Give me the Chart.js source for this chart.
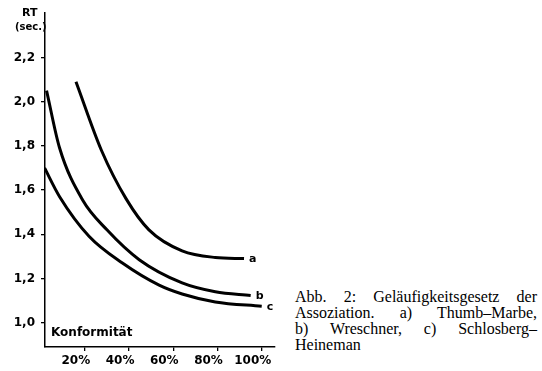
<!DOCTYPE html>
<html lang="de">
<head>
<meta charset="UTF-8">
<title>Geläufigkeitsgesetz der Assoziation</title>
<script src="https://cdn.jsdelivr.net/npm/chart.js"></script>
<style>
    body { margin: 0; background: #fff; }
    #wrap { position: relative; width: 542px; height: 371px; overflow: hidden; }
    #chartBox { position: absolute; left: 0; top: 0; width: 290px; height: 371px; }
    .lbl { position: absolute; font-family: "DejaVu Sans", sans-serif; font-weight: bold; color: #000; white-space: nowrap; }
    #caption { position: absolute; left: 295px; top: 289px; width: 242px; font-family: "Liberation Serif", serif; font-size: 16px; line-height: 16px; color: #000; }
    #caption div { text-align: justify; text-align-last: justify; }
    #caption div.last { text-align-last: left; }
</style>
</head>
<body>
<div id="wrap">
    <div id="chartBox"><canvas id="chart"></canvas></div>
    <div class="lbl" style="left:22px; top:6px; font-size:11px;">RT</div>
    <div class="lbl" style="left:15px; top:21px; font-size:10px;">(sec.)</div>
    <div class="lbl" style="left:51px; top:325px; font-size:12px;">Konformität</div>
    <div id="caption">
        <div>Abb. 2: Geläufigkeitsgesetz der</div>
        <div>Assoziation. a) Thumb–Marbe,</div>
        <div>b) Wreschner, c) Schlosberg–</div>
        <div class="last">Heineman</div>
    </div>
</div>
<script>
// values (x = Konformität in %, y = RT in sec.)
const curveA = [[16, 2.09], [27.5, 1.78], [38.7, 1.56], [49, 1.42], [64, 1.325], [79, 1.295], [92, 1.29]];
const curveB = [[2.7, 2.05], [8.6, 1.79], [19, 1.555], [30, 1.42], [44.6, 1.285], [64, 1.18], [79, 1.14], [95, 1.123]];
const curveC = [[1.8, 1.70], [8.6, 1.57], [22, 1.39], [37, 1.27], [53.6, 1.17], [64, 1.13], [79, 1.094], [100, 1.074]];
const curveNames = ['a', 'b', 'c'];
const xTicks = [20, 40, 60, 80, 100];
const yTicks = [1.0, 1.2, 1.4, 1.6, 1.8, 2.0, 2.2];

function toPoints(arr) {
    return arr.map(p => ({ x: p[0], y: p[1] }));
}

// small letter at the end of each curve
const endLabels = {
    id: 'endLabels',
    afterDatasetsDraw(chart) {
        const ctx = chart.ctx;
        ctx.save();
        ctx.font = 'bold 11px "DejaVu Sans", sans-serif';
        ctx.fillStyle = '#000';
        ctx.textBaseline = 'middle';
        chart.data.datasets.forEach((ds, i) => {
            const meta = chart.getDatasetMeta(i);
            const last = meta.data[meta.data.length - 1];
            ctx.fillText(curveNames[i], last.x + 5, last.y + 1);
        });
        ctx.restore();
    }
};

const lineStyle = {
    borderColor: '#000',
    borderWidth: 3,
    pointRadius: 0,
    fill: false,
    cubicInterpolationMode: 'monotone'
};

new Chart(document.getElementById('chart'), {
    type: 'line',
    data: {
        datasets: [
            Object.assign({ label: 'a', data: toPoints(curveA) }, lineStyle),
            Object.assign({ label: 'b', data: toPoints(curveB) }, lineStyle),
            Object.assign({ label: 'c', data: toPoints(curveC) }, lineStyle)
        ]
    },
    options: {
        responsive: true,
        maintainAspectRatio: false,
        animation: false,
        layout: { padding: { top: 13, right: 15, left: 0, bottom: 0 } },
        plugins: { legend: { display: false }, tooltip: { enabled: false } },
        scales: {
            x: {
                type: 'linear',
                min: 2,
                max: 106,
                afterBuildTicks: s => { s.ticks = xTicks.map(v => ({ value: v })); },
                afterFit: s => { s.height = 24; },
                grid: { display: true, drawOnChartArea: false, drawTicks: true, tickLength: 4, color: '#000', lineWidth: 1.3 },
                border: { display: true, color: '#000', width: 1.5 },
                ticks: {
                    color: '#000',
                    padding: 3,
                    labelOffset: -9,
                    maxRotation: 0,
                    font: { family: '"DejaVu Sans", sans-serif', size: 12, weight: 'bold' },
                    callback: v => v + '%'
                }
            },
            y: {
                type: 'linear',
                min: 0.89,
                max: 2.4,
                afterBuildTicks: s => { s.ticks = yTicks.map(v => ({ value: v })); },
                afterFit: s => { s.width = 45; },
                grid: { display: true, drawOnChartArea: false, drawTicks: true, tickLength: 4, color: '#000', lineWidth: 1.3 },
                border: { display: true, color: '#000', width: 1.5 },
                ticks: {
                    color: '#000',
                    padding: 6,
                    font: { family: '"DejaVu Sans", sans-serif', size: 12, weight: 'bold' },
                    callback: v => v.toFixed(1).replace('.', ',')
                }
            }
        }
    },
    plugins: [endLabels]
});
</script>
</body>
</html>
